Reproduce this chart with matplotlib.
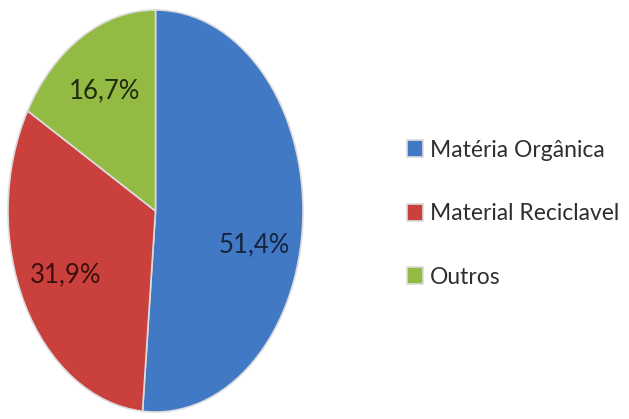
import numpy as np
import matplotlib.pyplot as plt

categories = ["Matéria Orgânica", "Material Reciclavel", "Outros"]
shares = [51.4, 31.9, 16.7]
colors = ["#4279c4", "#c9403c", "#93bb44"]
label_colors = ["#16243f", "#3d0f0f", "#1f2a0c"]

plt.rcParams['font.family'] = ['Lato', 'DejaVu Sans']

fig = plt.figure(figsize=(6.29, 4.19), dpi=100)
# axes box matches the stretched (elliptical) pie in the reference
ax = fig.add_axes([8 / 629, 7 / 419, 295 / 629, 402 / 419])

wedges, texts, autotexts = ax.pie(
    shares, colors=colors, startangle=90, counterclock=False,
    autopct=lambda p: f"{p:.1f}%".replace('.', ','), pctdistance=0.69,
    wedgeprops=dict(edgecolor="#dcdcdc", linewidth=1.2),
    textprops=dict(fontsize=18.5),
)
ax.set_aspect('auto')
ax.set_xlim(-1, 1)
ax.set_ylim(-1, 1)

# the blue label sits a bit lower than the wedge's middle
angle_shift = [-11.5, 0, 0]
for w, t, c, s in zip(wedges, autotexts, label_colors, angle_shift):
    t.set_color(c)
    mid = np.deg2rad((w.theta1 + w.theta2) / 2 + s)
    t.set_position((0.69 * np.cos(mid), 0.69 * np.sin(mid)))

fig.legend(
    wedges, categories, loc='center left', bbox_to_anchor=(386 / 629, 0.49),
    frameon=False, fontsize=16.5, handlelength=0.7, handleheight=0.75,
    handletextpad=0.3, labelspacing=1.85, labelcolor="#2e2e2e",
)

fig.savefig("out.png", dpi=100)
